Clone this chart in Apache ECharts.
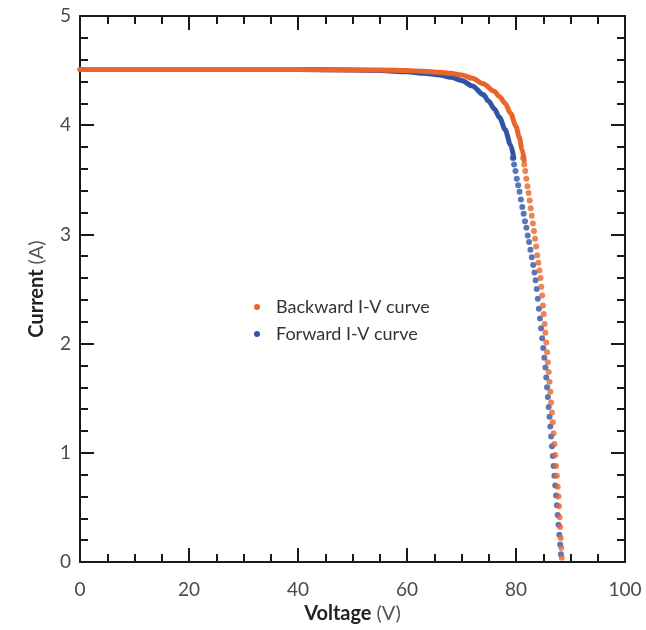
<!DOCTYPE html>
<html>
<head>
<meta charset="utf-8">
<script src="https://cdn.jsdelivr.net/npm/echarts@6/dist/echarts.min.js"></script>
<style>
html,body{margin:0;padding:0;background:#fff;}
#chart{width:646px;height:630px;}
</style>
</head>
<body>
<div id="chart"></div>
<script>
// ---- Data ----
const xTicks = [0, 20, 40, 60, 80, 100];
const yTicks = [0, 1, 2, 3, 4, 5];
const seriesNames = ['Backward I-V curve', 'Forward I-V curve'];

// Backward (orange): dense, continuous-looking part of the curve
const backDenseV = [0, 10, 20, 30, 40, 50, 55, 60, 63, 66, 68, 70, 72, 74, 76, 77, 78, 79, 80, 80.6, 81.1, 81.5];
const backDenseI = [4.51, 4.51, 4.51, 4.51, 4.51, 4.505, 4.505, 4.50, 4.495, 4.485, 4.475, 4.46, 4.43, 4.38, 4.31, 4.26, 4.20, 4.11, 3.99, 3.89, 3.78, 3.68];
// Backward (orange): separated dots on the steep part
const backDotV = [81.3, 81.5, 81.7, 81.9, 82.1, 82.3, 82.5, 82.7, 82.9, 83.1, 83.3, 83.5, 83.7, 83.9, 84.1, 84.3, 84.5, 84.65, 84.8, 84.95, 85.1, 85.25, 85.4, 85.55, 85.7, 85.85, 86.0, 86.15, 86.3, 86.45, 86.6, 86.75, 86.9, 87.05, 87.2, 87.35, 87.5, 87.65, 87.8, 87.9, 88.0, 88.1, 88.2, 88.3, 88.4];
const backDotI = [3.70, 3.64, 3.58, 3.51, 3.44, 3.38, 3.31, 3.24, 3.17, 3.10, 3.03, 2.96, 2.89, 2.81, 2.74, 2.67, 2.60, 2.52, 2.44, 2.35, 2.27, 2.18, 2.10, 2.01, 1.92, 1.83, 1.74, 1.65, 1.56, 1.46, 1.37, 1.28, 1.18, 1.08, 0.98, 0.88, 0.79, 0.69, 0.60, 0.51, 0.41, 0.32, 0.22, 0.13, 0.04];

// Forward (blue): dense part
const fwdDenseV = [0, 10, 20, 30, 40, 50, 55, 60, 63, 66, 68, 70, 72, 74, 75, 76, 77, 78, 79, 79.6];
const fwdDenseI = [4.51, 4.51, 4.51, 4.51, 4.51, 4.505, 4.50, 4.49, 4.475, 4.46, 4.44, 4.41, 4.36, 4.28, 4.22, 4.15, 4.07, 3.96, 3.82, 3.70];
// Forward (blue): separated dots
const fwdDotV = [79.4, 79.65, 79.9, 80.15, 80.4, 80.65, 80.9, 81.15, 81.4, 81.65, 81.9, 82.15, 82.4, 82.65, 82.9, 83.15, 83.4, 83.6, 83.8, 84.0, 84.2, 84.4, 84.6, 84.8, 85.0, 85.2, 85.4, 85.55, 85.7, 85.85, 86.0, 86.15, 86.3, 86.45, 86.6, 86.75, 86.9, 87.05, 87.2, 87.35, 87.5, 87.65, 87.8, 87.95, 88.1, 88.25];
const fwdDotI = [3.70, 3.64, 3.58, 3.51, 3.45, 3.39, 3.32, 3.25, 3.19, 3.12, 3.06, 2.99, 2.93, 2.86, 2.79, 2.72, 2.65, 2.58, 2.50, 2.41, 2.32, 2.23, 2.14, 2.05, 1.96, 1.87, 1.78, 1.69, 1.60, 1.51, 1.42, 1.33, 1.24, 1.15, 1.06, 0.97, 0.88, 0.79, 0.70, 0.61, 0.52, 0.43, 0.34, 0.25, 0.16, 0.07];

// ---- Chart ----
const ORANGE = '#EA642C';
const BLUE = '#3254A5';
const FONT = 'Lato, "Open Sans", sans-serif';

function pairs(vs, is) { return vs.map((v, k) => [v, is[k]]); }

const chart = echarts.init(document.getElementById('chart'), null, {renderer: 'canvas'});

function xAxisBase(pos, showLabel) {
  return {
    type: 'value', position: pos, min: xTicks[0], max: xTicks[xTicks.length - 1], interval: 20,
    axisLine: {show: true, onZero: false, lineStyle: {color: '#1a1a1a', width: 2}},
    axisTick: {show: true, inside: true, length: 14, lineStyle: {color: '#1a1a1a', width: 2}},
    minorTick: {show: true, splitNumber: 4, length: 8, lineStyle: {color: '#1a1a1a', width: 2}},
    splitLine: {show: false},
    axisLabel: {show: showLabel, color: '#4a4a4a', fontSize: 19, fontFamily: FONT, margin: 18}
  };
}
function yAxisBase(pos, showLabel) {
  return {
    type: 'value', position: pos, min: yTicks[0], max: yTicks[yTicks.length - 1], interval: 1,
    axisLine: {show: true, onZero: false, lineStyle: {color: '#1a1a1a', width: 2}},
    axisTick: {show: true, inside: true, length: 14, lineStyle: {color: '#1a1a1a', width: 2}},
    minorTick: {show: true, splitNumber: 5, length: 8, lineStyle: {color: '#1a1a1a', width: 2}},
    splitLine: {show: false},
    axisLabel: {show: showLabel, color: '#4a4a4a', fontSize: 19, fontFamily: FONT, margin: 9}
  };
}

const nameRich = {
  b: {fontWeight: 'bold', color: '#222', fontSize: 20, fontFamily: FONT},
  n: {color: '#555', fontSize: 20, fontFamily: FONT}
};
const xMain = xAxisBase('bottom', true);
xMain.name = '{b|Voltage }{n|(V)}';
xMain.nameLocation = 'middle';
xMain.nameGap = 38;
xMain.nameTextStyle = {rich: nameRich};
const yMain = yAxisBase('left', true);
yMain.name = '{b|Current }{n|(A)}';
yMain.nameLocation = 'middle';
yMain.nameGap = 33;
yMain.nameTextStyle = {rich: nameRich};

const option = {
  animation: false,
  backgroundColor: '#fff',
  grid: {left: 80, right: 21, top: 16, bottom: 68, containLabel: false},
  xAxis: [xMain, xAxisBase('top', false)],
  yAxis: [yMain, yAxisBase('right', false)],
  legend: {
    orient: 'vertical', left: 249, top: 293, itemGap: 9,
    itemWidth: 28, itemHeight: 6,
    textStyle: {color: '#333', fontSize: 18, fontFamily: FONT},
    data: [
      {name: seriesNames[0], icon: 'circle', itemStyle: {color: ORANGE}},
      {name: seriesNames[1], icon: 'circle', itemStyle: {color: BLUE}}
    ]
  },
  series: [
    {name: seriesNames[1], type: 'line', data: pairs(fwdDenseV, fwdDenseI), smooth: 0.3, smoothMonotone: 'x',
     showSymbol: false, color: BLUE, lineStyle: {color: BLUE, width: 5, cap: 'round', join: 'round'}, z: 2},
    {name: seriesNames[1], type: 'scatter', data: pairs(fwdDotV, fwdDotI), symbolSize: 6,
     color: BLUE, itemStyle: {color: BLUE}, z: 2},
    {name: seriesNames[0], type: 'line', data: pairs(backDenseV, backDenseI), smooth: 0.3, smoothMonotone: 'x',
     showSymbol: false, color: ORANGE, lineStyle: {color: ORANGE, width: 5, cap: 'round', join: 'round'}, z: 3},
    {name: seriesNames[0], type: 'scatter', data: pairs(backDotV, backDotI), symbolSize: 6,
     color: ORANGE, itemStyle: {color: ORANGE}, z: 3}
  ]
};
chart.setOption(option);
</script>
</body>
</html>
